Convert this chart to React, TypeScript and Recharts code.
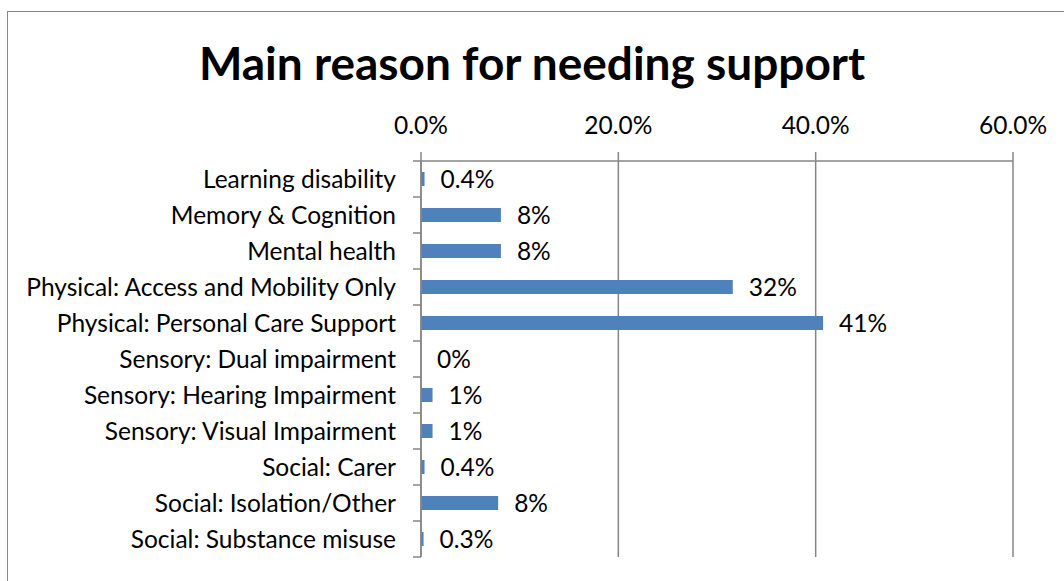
import React from "react";
import {
  BarChart,
  Bar,
  XAxis,
  YAxis,
  CartesianGrid,
  LabelList
} from "recharts";

// Data (percent of people)
const categories = [
  "Learning disability",
  "Memory & Cognition",
  "Mental health",
  "Physical: Access and Mobility Only",
  "Physical: Personal Care Support",
  "Sensory: Dual impairment",
  "Sensory: Hearing Impairment",
  "Sensory: Visual Impairment",
  "Social: Carer",
  "Social: Isolation/Other",
  "Social: Substance misuse"
];
const values = [0.36, 8.1, 8.1, 31.6, 40.75, 0, 1.17, 1.17, 0.36, 7.82, 0.26];
const valueLabels = ["0.4%", "8%", "8%", "32%", "41%", "0%", "1%", "1%", "0.4%", "8%", "0.3%"];
const xTicks = [0, 20, 40, 60];

const data = categories.map((name, i) => ({
  name,
  value: values[i],
  label: valueLabels[i]
}));

const FONT = "Lato, 'Liberation Sans', sans-serif";
const GRAY = "#868686";
const BAR = "#4F81BD";
const FS = 24.5;

const WIDTH = 1064;
const HEIGHT = 581;
const PLOT_LEFT = 421;
const PLOT_TOP = 161;
const PLOT_RIGHT = 1013;
const PLOT_BOTTOM = 557;
const Y_TICK_SIZE = 8;
const Y_TICK_MARGIN = 17;
const BAND = (PLOT_BOTTOM - PLOT_TOP) / categories.length;

// category tick: label at band center, tick marks on band boundaries
const CategoryTick = (props: any) => {
  const { x, y, payload, index } = props;
  const axisX = x + Y_TICK_SIZE + Y_TICK_MARGIN;
  const half = BAND / 2;
  return (
    <g>
      <line x1={axisX - Y_TICK_SIZE} x2={axisX} y1={y - half} y2={y - half} stroke={GRAY} strokeWidth={1.5} />
      {index === categories.length - 1 && (
        <line x1={axisX - Y_TICK_SIZE} x2={axisX} y1={y + half} y2={y + half} stroke={GRAY} strokeWidth={1.5} />
      )}
      <text x={x} y={y - 1} textAnchor="end" dominantBaseline="central" fontSize={FS} fontFamily={FONT} fill="#000">
        {payload.value}
      </text>
    </g>
  );
};

export default function App() {
  return (
    <div style={{ position: "absolute", left: 0, top: 0, width: WIDTH, height: HEIGHT, background: "#fff", overflow: "hidden" }}>
      <div
        style={{
          position: "absolute",
          left: 7,
          top: 11,
          width: WIDTH,
          height: HEIGHT,
          borderTop: `1.5px solid ${GRAY}`,
          borderLeft: `1.5px solid ${GRAY}`
        }}
      />
      <div
        style={{
          position: "absolute",
          left: 0,
          top: 33,
          width: WIDTH,
          textAlign: "center",
          fontFamily: FONT,
          fontWeight: 700,
          fontSize: 46,
          lineHeight: "60px",
          color: "#000"
        }}
      >
        Main reason for needing support
      </div>
      <div style={{ position: "absolute", left: 0, top: 0 }}>
        <BarChart
          width={WIDTH}
          height={HEIGHT}
          data={data}
          layout="vertical"
          margin={{ top: 0, right: WIDTH - PLOT_RIGHT, bottom: HEIGHT - PLOT_BOTTOM, left: 0 }}
        >
          <CartesianGrid horizontal={false} stroke={GRAY} strokeWidth={1.5} />
          <XAxis
            type="number"
            orientation="top"
            height={PLOT_TOP}
            domain={[0, 60]}
            ticks={xTicks}
            tickFormatter={(v: number) => v.toFixed(1) + "%"}
            axisLine={{ stroke: GRAY, strokeWidth: 1.5 }}
            tickLine={{ stroke: GRAY, strokeWidth: 1.5 }}
            tickSize={9}
            tickMargin={18}
            tick={{ fontSize: FS, fontFamily: FONT, fill: "#000" }}
            interval={0}
          />
          <YAxis
            type="category"
            dataKey="name"
            width={PLOT_LEFT}
            axisLine={{ stroke: GRAY, strokeWidth: 1.5 }}
            tickLine={false}
            tickSize={Y_TICK_SIZE}
            tickMargin={Y_TICK_MARGIN}
            tick={<CategoryTick />}
            interval={0}
          />
          <Bar
            dataKey="value"
            fill={BAR}
            barSize={14}
            minPointSize={(v: number) => (v === 0 ? 0.01 : 0)}
            isAnimationActive={false}
          >
            <LabelList dataKey="label" position="right" offset={16} fill="#000" fontSize={FS} fontFamily={FONT} />
          </Bar>
        </BarChart>
      </div>
    </div>
  );
}
